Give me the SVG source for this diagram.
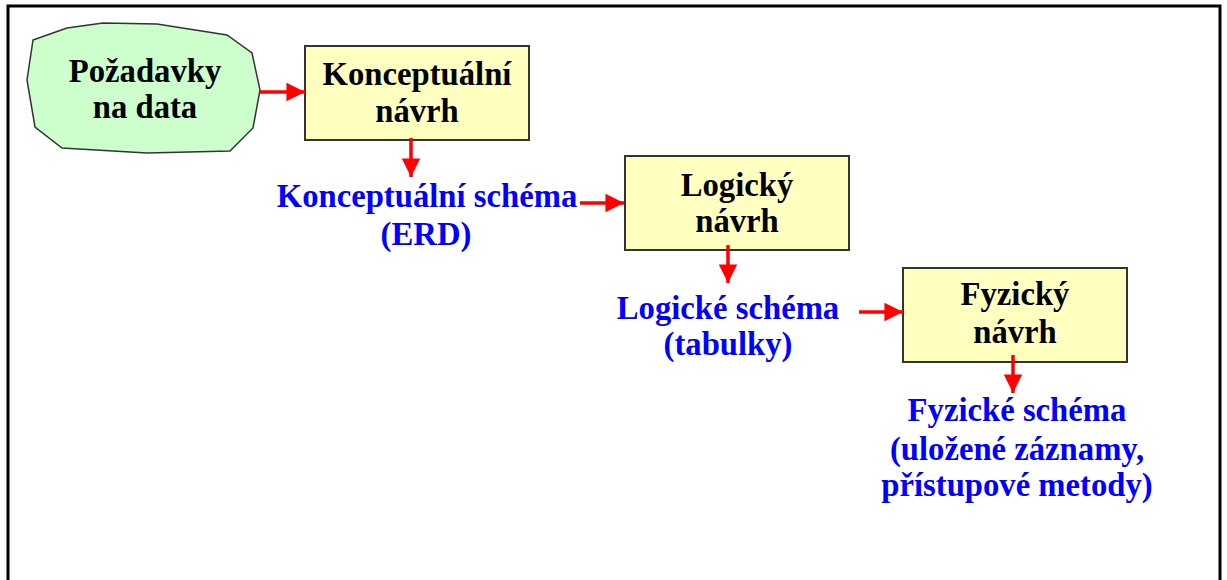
<svg xmlns="http://www.w3.org/2000/svg" width="1227" height="580" viewBox="0 0 1227 580">
  <style>
    .frame { fill: none; stroke: #000; stroke-width: 3; }
    .proc { fill: #ffffc0; stroke: #333; stroke-width: 2; }
    .src { fill: #ccffcc; stroke: #333; stroke-width: 1.5; }
    .t { font-family: "Liberation Serif", "Times New Roman", serif; font-weight: bold; font-size: 32.7px; text-anchor: middle; }
    .dark { fill: #000; }
    .blue { fill: #0000ff; }
    .conn { stroke: #ff0000; stroke-width: 3.5; fill: none; }
  </style>
  <defs>
    <marker id="head" viewBox="0 0 10 10" refX="10" refY="5" markerWidth="5.3" markerHeight="5.4" markerUnits="strokeWidth" orient="auto">
      <path d="M0,0 L10,5 L0,10 Z" fill="#ff0000"/>
    </marker>
  </defs>

  <rect width="1227" height="580" fill="#fff"/>
  <path class="frame" d="M8,580 V6 H1220 V580"/>

  <g id="pozadavky">
    <polygon class="src" points="33,40 67,28 103,23 157,24 227,35 252,53 260,90 253,128 230,151 147,153 62,148 35,127 27,80"/>
    <text class="t dark" x="145" y="82">Požadavky</text>
    <text class="t dark" x="145" y="118">na data</text>
  </g>

  <g id="konceptualni-navrh">
    <rect class="proc" x="305" y="46" width="224" height="94"/>
    <text class="t dark" x="417" y="85">Konceptuální</text>
    <text class="t dark" x="417" y="122">návrh</text>
  </g>

  <g id="konceptualni-schema">
    <text class="t blue" x="427" y="207">Konceptuální schéma</text>
    <text class="t blue" x="426" y="245">(ERD)</text>
  </g>

  <g id="logicky-navrh">
    <rect class="proc" x="625" y="156" width="224" height="94"/>
    <text class="t dark" x="737" y="196">Logický</text>
    <text class="t dark" x="737" y="232">návrh</text>
  </g>

  <g id="logicke-schema">
    <text class="t blue" x="728" y="319">Logické schéma</text>
    <text class="t blue" x="728" y="355">(tabulky)</text>
  </g>

  <g id="fyzicky-navrh">
    <rect class="proc" x="903" y="268" width="224" height="94"/>
    <text class="t dark" x="1015" y="305">Fyzický</text>
    <text class="t dark" x="1015" y="343">návrh</text>
  </g>

  <g id="fyzicke-schema">
    <text class="t blue" x="1017" y="421">Fyzické schéma</text>
    <text class="t blue" x="1017" y="460">(uložené záznamy,</text>
    <text class="t blue" x="1017" y="496">přístupové metody)</text>
  </g>

  <g id="connectors">
    <line class="conn" x1="260" y1="92" x2="305" y2="92" marker-end="url(#head)"/>
    <line class="conn" x1="411" y1="138" x2="411" y2="177" marker-end="url(#head)"/>
    <line class="conn" x1="580" y1="203" x2="624" y2="203" marker-end="url(#head)"/>
    <line class="conn" x1="728" y1="245" x2="728" y2="283" marker-end="url(#head)"/>
    <line class="conn" x1="859" y1="312" x2="903" y2="312" marker-end="url(#head)"/>
    <line class="conn" x1="1013" y1="355" x2="1013" y2="393" marker-end="url(#head)"/>
  </g>
</svg>
